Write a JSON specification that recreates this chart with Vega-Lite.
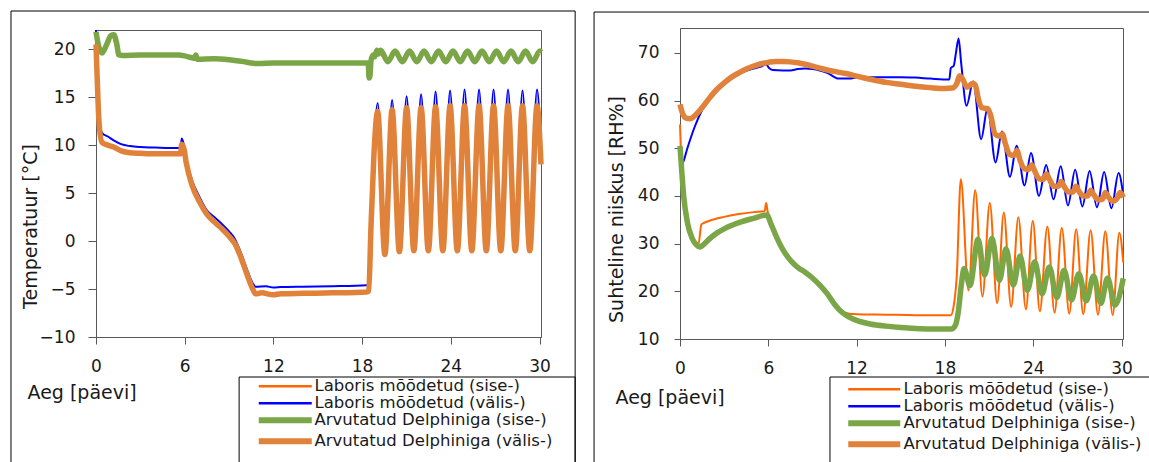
{
  "$schema": "https://vega.github.io/schema/vega-lite/v6.json",
  "padding": {"left": 9, "top": 10, "right": 0, "bottom": 0},
  "background": "white",
  "bounds": "flush",
  "center": true,
  "spacing": 139,
  "resolve": {"scale": {"color": "independent"}, "legend": {"color": "independent"}},
  "config": {
    "font": "DejaVu Sans",
    "view": {"stroke": "#595959", "strokeWidth": 1},
    "axis": {"grid": false, "domainColor": "#595959", "tickColor": "#595959", "labelColor": "#1a1a1a", "titleColor": "#1a1a1a", "labelFont": "DejaVu Sans", "titleFont": "DejaVu Sans", "labelFontSize": 17, "titleFontSize": 19, "titleFontWeight": "normal", "labelFlush": false, "labelOverlap": false},
    "line": {"interpolate": "monotone"}
  },
  "datasets": {
    "temp": [
      {"s":"Laboris mõõdetud (sise-)","d":0,"v":21.6},{"s":"Laboris mõõdetud (sise-)","d":0.4,"v":19.7},{"s":"Laboris mõõdetud (sise-)","d":1.1,"v":21.3},{"s":"Laboris mõõdetud (sise-)","d":1.55,"v":19.4},{"s":"Laboris mõõdetud (sise-)","d":3,"v":19.4},{"s":"Laboris mõõdetud (sise-)","d":5.6,"v":19.4},{"s":"Laboris mõõdetud (sise-)","d":6.5,"v":19.1},{"s":"Laboris mõõdetud (sise-)","d":8,"v":19.0},{"s":"Laboris mõõdetud (sise-)","d":10,"v":18.7},{"s":"Laboris mõõdetud (sise-)","d":10.5,"v":18.55},{"s":"Laboris mõõdetud (sise-)","d":18.4,"v":18.5},{"s":"Laboris mõõdetud (sise-)","d":18.48,"v":17.3},{"s":"Laboris mõõdetud (sise-)","d":18.6,"v":18.9},{"s":"Laboris mõõdetud (sise-)","d":19.0,"v":19.8},{"s":"Laboris mõõdetud (sise-)","d":19.74,"v":18.75},{"s":"Laboris mõõdetud (sise-)","d":20.23,"v":19.75},{"s":"Laboris mõõdetud (sise-)","d":20.72,"v":18.75},{"s":"Laboris mõõdetud (sise-)","d":21.21,"v":19.75},{"s":"Laboris mõõdetud (sise-)","d":21.7,"v":18.75},{"s":"Laboris mõõdetud (sise-)","d":22.19,"v":19.75},{"s":"Laboris mõõdetud (sise-)","d":22.68,"v":18.75},{"s":"Laboris mõõdetud (sise-)","d":23.17,"v":19.75},{"s":"Laboris mõõdetud (sise-)","d":23.66,"v":18.75},{"s":"Laboris mõõdetud (sise-)","d":24.15,"v":19.75},{"s":"Laboris mõõdetud (sise-)","d":24.64,"v":18.75},{"s":"Laboris mõõdetud (sise-)","d":25.13,"v":19.75},{"s":"Laboris mõõdetud (sise-)","d":25.62,"v":18.75},{"s":"Laboris mõõdetud (sise-)","d":26.11,"v":19.75},{"s":"Laboris mõõdetud (sise-)","d":26.6,"v":18.75},{"s":"Laboris mõõdetud (sise-)","d":27.09,"v":19.75},{"s":"Laboris mõõdetud (sise-)","d":27.58,"v":18.75},{"s":"Laboris mõõdetud (sise-)","d":28.07,"v":19.75},{"s":"Laboris mõõdetud (sise-)","d":28.56,"v":18.75},{"s":"Laboris mõõdetud (sise-)","d":29.05,"v":19.75},{"s":"Laboris mõõdetud (sise-)","d":29.54,"v":18.75},{"s":"Laboris mõõdetud (sise-)","d":30.03,"v":19.75},{"s":"Laboris mõõdetud (sise-)","d":30.1,"v":19.6},

      {"s":"Laboris mõõdetud (välis-)","d":0,"v":22},{"s":"Laboris mõõdetud (välis-)","d":0.05,"v":19},{"s":"Laboris mõõdetud (välis-)","d":0.12,"v":15},{"s":"Laboris mõõdetud (välis-)","d":0.25,"v":12},{"s":"Laboris mõõdetud (välis-)","d":0.45,"v":11.2},{"s":"Laboris mõõdetud (välis-)","d":0.8,"v":10.9},{"s":"Laboris mõõdetud (välis-)","d":1.2,"v":10.5},{"s":"Laboris mõõdetud (välis-)","d":1.7,"v":10.1},{"s":"Laboris mõõdetud (välis-)","d":2.3,"v":9.9},{"s":"Laboris mõõdetud (välis-)","d":3,"v":9.8},{"s":"Laboris mõõdetud (välis-)","d":4,"v":9.75},{"s":"Laboris mõõdetud (välis-)","d":5,"v":9.7},{"s":"Laboris mõõdetud (välis-)","d":5.72,"v":9.7},{"s":"Laboris mõõdetud (välis-)","d":5.8,"v":10.7},{"s":"Laboris mõõdetud (välis-)","d":5.9,"v":10.3},{"s":"Laboris mõõdetud (välis-)","d":6.1,"v":8.6},{"s":"Laboris mõõdetud (välis-)","d":6.5,"v":6.3},{"s":"Laboris mõõdetud (välis-)","d":7,"v":4.6},{"s":"Laboris mõõdetud (välis-)","d":7.5,"v":3.2},{"s":"Laboris mõõdetud (välis-)","d":8,"v":2.5},{"s":"Laboris mõõdetud (välis-)","d":8.5,"v":1.8},{"s":"Laboris mõõdetud (välis-)","d":9,"v":1.0},{"s":"Laboris mõõdetud (välis-)","d":9.4,"v":0.2},{"s":"Laboris mõõdetud (välis-)","d":9.8,"v":-1.2},{"s":"Laboris mõõdetud (välis-)","d":10.2,"v":-2.9},{"s":"Laboris mõõdetud (välis-)","d":10.6,"v":-4.4},{"s":"Laboris mõõdetud (välis-)","d":10.8,"v":-4.75},{"s":"Laboris mõõdetud (välis-)","d":11.5,"v":-4.7},{"s":"Laboris mõõdetud (välis-)","d":12,"v":-4.85},{"s":"Laboris mõõdetud (välis-)","d":12.5,"v":-4.8},{"s":"Laboris mõõdetud (välis-)","d":14,"v":-4.75},{"s":"Laboris mõõdetud (välis-)","d":16,"v":-4.7},{"s":"Laboris mõõdetud (välis-)","d":18.3,"v":-4.6},{"s":"Laboris mõõdetud (välis-)","d":18.45,"v":-4.5},{"s":"Laboris mõõdetud (välis-)","d":18.6,"v":2},{"s":"Laboris mõõdetud (välis-)","d":18.8,"v":10},{"s":"Laboris mõõdetud (välis-)","d":19.05,"v":14.4},{"s":"Laboris mõõdetud (välis-)","d":19.54,"v":-1.3},{"s":"Laboris mõõdetud (välis-)","d":20.03,"v":14.7},{"s":"Laboris mõõdetud (välis-)","d":20.52,"v":-1.0},{"s":"Laboris mõõdetud (välis-)","d":21.01,"v":15.1},{"s":"Laboris mõõdetud (välis-)","d":21.5,"v":-0.9},{"s":"Laboris mõõdetud (välis-)","d":21.99,"v":15.3},{"s":"Laboris mõõdetud (välis-)","d":22.48,"v":-0.9},{"s":"Laboris mõõdetud (välis-)","d":22.97,"v":15.6},{"s":"Laboris mõõdetud (välis-)","d":23.46,"v":-0.9},{"s":"Laboris mõõdetud (välis-)","d":23.95,"v":15.7},{"s":"Laboris mõõdetud (välis-)","d":24.44,"v":-0.9},{"s":"Laboris mõõdetud (välis-)","d":24.93,"v":15.8},{"s":"Laboris mõõdetud (välis-)","d":25.42,"v":-0.9},{"s":"Laboris mõõdetud (välis-)","d":25.91,"v":15.8},{"s":"Laboris mõõdetud (välis-)","d":26.4,"v":-0.9},{"s":"Laboris mõõdetud (välis-)","d":26.89,"v":15.8},{"s":"Laboris mõõdetud (välis-)","d":27.38,"v":-0.9},{"s":"Laboris mõõdetud (välis-)","d":27.87,"v":15.8},{"s":"Laboris mõõdetud (välis-)","d":28.36,"v":-0.9},{"s":"Laboris mõõdetud (välis-)","d":28.85,"v":15.7},{"s":"Laboris mõõdetud (välis-)","d":29.34,"v":-0.9},{"s":"Laboris mõõdetud (välis-)","d":29.83,"v":15.8},{"s":"Laboris mõõdetud (välis-)","d":30.1,"v":9},

      {"s":"Arvutatud Delphiniga (sise-)","d":0,"v":21.8},{"s":"Arvutatud Delphiniga (sise-)","d":0.15,"v":20.5},{"s":"Arvutatud Delphiniga (sise-)","d":0.4,"v":19.6},{"s":"Arvutatud Delphiniga (sise-)","d":0.7,"v":20.4},{"s":"Arvutatud Delphiniga (sise-)","d":1.0,"v":21.4},{"s":"Arvutatud Delphiniga (sise-)","d":1.2,"v":21.5},{"s":"Arvutatud Delphiniga (sise-)","d":1.4,"v":20.6},{"s":"Arvutatud Delphiniga (sise-)","d":1.55,"v":19.4},{"s":"Arvutatud Delphiniga (sise-)","d":1.8,"v":19.35},{"s":"Arvutatud Delphiniga (sise-)","d":3,"v":19.4},{"s":"Arvutatud Delphiniga (sise-)","d":4,"v":19.4},{"s":"Arvutatud Delphiniga (sise-)","d":5.6,"v":19.4},{"s":"Arvutatud Delphiniga (sise-)","d":6.0,"v":19.3},{"s":"Arvutatud Delphiniga (sise-)","d":6.5,"v":19.1},{"s":"Arvutatud Delphiniga (sise-)","d":6.7,"v":19.05},{"s":"Arvutatud Delphiniga (sise-)","d":6.75,"v":19.4},{"s":"Arvutatud Delphiniga (sise-)","d":6.85,"v":18.95},{"s":"Arvutatud Delphiniga (sise-)","d":8,"v":19.0},{"s":"Arvutatud Delphiniga (sise-)","d":9,"v":18.9},{"s":"Arvutatud Delphiniga (sise-)","d":10,"v":18.7},{"s":"Arvutatud Delphiniga (sise-)","d":10.5,"v":18.55},{"s":"Arvutatud Delphiniga (sise-)","d":11,"v":18.5},{"s":"Arvutatud Delphiniga (sise-)","d":12,"v":18.55},{"s":"Arvutatud Delphiniga (sise-)","d":14,"v":18.55},{"s":"Arvutatud Delphiniga (sise-)","d":16,"v":18.55},{"s":"Arvutatud Delphiniga (sise-)","d":18.35,"v":18.55},{"s":"Arvutatud Delphiniga (sise-)","d":18.42,"v":18.4},{"s":"Arvutatud Delphiniga (sise-)","d":18.47,"v":17.0},{"s":"Arvutatud Delphiniga (sise-)","d":18.53,"v":17.2},{"s":"Arvutatud Delphiniga (sise-)","d":18.6,"v":18.8},{"s":"Arvutatud Delphiniga (sise-)","d":18.75,"v":19.4},{"s":"Arvutatud Delphiniga (sise-)","d":18.85,"v":19.2},{"s":"Arvutatud Delphiniga (sise-)","d":19.0,"v":19.9},{"s":"Arvutatud Delphiniga (sise-)","d":19.1,"v":19.5},{"s":"Arvutatud Delphiniga (sise-)","d":19.25,"v":19.9},{"s":"Arvutatud Delphiniga (sise-)","d":19.74,"v":18.7},{"s":"Arvutatud Delphiniga (sise-)","d":20.23,"v":19.8},{"s":"Arvutatud Delphiniga (sise-)","d":20.72,"v":18.7},{"s":"Arvutatud Delphiniga (sise-)","d":21.21,"v":19.8},{"s":"Arvutatud Delphiniga (sise-)","d":21.7,"v":18.7},{"s":"Arvutatud Delphiniga (sise-)","d":22.19,"v":19.8},{"s":"Arvutatud Delphiniga (sise-)","d":22.68,"v":18.7},{"s":"Arvutatud Delphiniga (sise-)","d":23.17,"v":19.8},{"s":"Arvutatud Delphiniga (sise-)","d":23.66,"v":18.7},{"s":"Arvutatud Delphiniga (sise-)","d":24.15,"v":19.8},{"s":"Arvutatud Delphiniga (sise-)","d":24.64,"v":18.7},{"s":"Arvutatud Delphiniga (sise-)","d":25.13,"v":19.8},{"s":"Arvutatud Delphiniga (sise-)","d":25.62,"v":18.7},{"s":"Arvutatud Delphiniga (sise-)","d":26.11,"v":19.8},{"s":"Arvutatud Delphiniga (sise-)","d":26.6,"v":18.7},{"s":"Arvutatud Delphiniga (sise-)","d":27.09,"v":19.8},{"s":"Arvutatud Delphiniga (sise-)","d":27.58,"v":18.7},{"s":"Arvutatud Delphiniga (sise-)","d":28.07,"v":19.8},{"s":"Arvutatud Delphiniga (sise-)","d":28.56,"v":18.7},{"s":"Arvutatud Delphiniga (sise-)","d":29.05,"v":19.8},{"s":"Arvutatud Delphiniga (sise-)","d":29.54,"v":18.7},{"s":"Arvutatud Delphiniga (sise-)","d":30.03,"v":19.8},{"s":"Arvutatud Delphiniga (sise-)","d":30.1,"v":19.7},

      {"s":"Arvutatud Delphiniga (välis-)","d":0,"v":20.5},{"s":"Arvutatud Delphiniga (välis-)","d":0.08,"v":17},{"s":"Arvutatud Delphiniga (välis-)","d":0.2,"v":12.5},{"s":"Arvutatud Delphiniga (välis-)","d":0.4,"v":10.3},{"s":"Arvutatud Delphiniga (välis-)","d":0.8,"v":10.0},{"s":"Arvutatud Delphiniga (välis-)","d":1.2,"v":9.8},{"s":"Arvutatud Delphiniga (välis-)","d":1.7,"v":9.4},{"s":"Arvutatud Delphiniga (välis-)","d":2.3,"v":9.2},{"s":"Arvutatud Delphiniga (välis-)","d":3,"v":9.15},{"s":"Arvutatud Delphiniga (välis-)","d":4,"v":9.1},{"s":"Arvutatud Delphiniga (välis-)","d":5,"v":9.1},{"s":"Arvutatud Delphiniga (välis-)","d":5.72,"v":9.1},{"s":"Arvutatud Delphiniga (välis-)","d":5.8,"v":10.1},{"s":"Arvutatud Delphiniga (välis-)","d":5.95,"v":9.6},{"s":"Arvutatud Delphiniga (välis-)","d":6.1,"v":8.2},{"s":"Arvutatud Delphiniga (välis-)","d":6.5,"v":5.8},{"s":"Arvutatud Delphiniga (välis-)","d":7,"v":4.1},{"s":"Arvutatud Delphiniga (välis-)","d":7.5,"v":2.8},{"s":"Arvutatud Delphiniga (välis-)","d":8,"v":2.0},{"s":"Arvutatud Delphiniga (välis-)","d":8.5,"v":1.3},{"s":"Arvutatud Delphiniga (välis-)","d":9,"v":0.5},{"s":"Arvutatud Delphiniga (välis-)","d":9.4,"v":-0.3},{"s":"Arvutatud Delphiniga (välis-)","d":9.8,"v":-1.7},{"s":"Arvutatud Delphiniga (välis-)","d":10.2,"v":-3.4},{"s":"Arvutatud Delphiniga (välis-)","d":10.6,"v":-5.0},{"s":"Arvutatud Delphiniga (välis-)","d":10.8,"v":-5.5},{"s":"Arvutatud Delphiniga (välis-)","d":11.2,"v":-5.4},{"s":"Arvutatud Delphiniga (välis-)","d":12,"v":-5.6},{"s":"Arvutatud Delphiniga (välis-)","d":12.5,"v":-5.5},{"s":"Arvutatud Delphiniga (välis-)","d":14,"v":-5.45},{"s":"Arvutatud Delphiniga (välis-)","d":16,"v":-5.4},{"s":"Arvutatud Delphiniga (välis-)","d":18.3,"v":-5.3},{"s":"Arvutatud Delphiniga (välis-)","d":18.45,"v":-5.2},{"s":"Arvutatud Delphiniga (välis-)","d":18.6,"v":1.5},{"s":"Arvutatud Delphiniga (välis-)","d":18.8,"v":9},{"s":"Arvutatud Delphiniga (välis-)","d":19.05,"v":13.5},{"s":"Arvutatud Delphiniga (välis-)","d":19.54,"v":-1.4},{"s":"Arvutatud Delphiniga (välis-)","d":20.03,"v":13.7},{"s":"Arvutatud Delphiniga (välis-)","d":20.52,"v":-1.1},{"s":"Arvutatud Delphiniga (välis-)","d":21.01,"v":13.9},{"s":"Arvutatud Delphiniga (välis-)","d":21.5,"v":-1.0},{"s":"Arvutatud Delphiniga (välis-)","d":21.99,"v":13.9},{"s":"Arvutatud Delphiniga (välis-)","d":22.48,"v":-1.0},{"s":"Arvutatud Delphiniga (välis-)","d":22.97,"v":14.0},{"s":"Arvutatud Delphiniga (välis-)","d":23.46,"v":-1.0},{"s":"Arvutatud Delphiniga (välis-)","d":23.95,"v":14.1},{"s":"Arvutatud Delphiniga (välis-)","d":24.44,"v":-1.0},{"s":"Arvutatud Delphiniga (välis-)","d":24.93,"v":14.1},{"s":"Arvutatud Delphiniga (välis-)","d":25.42,"v":-1.0},{"s":"Arvutatud Delphiniga (välis-)","d":25.91,"v":14.1},{"s":"Arvutatud Delphiniga (välis-)","d":26.4,"v":-1.0},{"s":"Arvutatud Delphiniga (välis-)","d":26.89,"v":14.1},{"s":"Arvutatud Delphiniga (välis-)","d":27.38,"v":-1.0},{"s":"Arvutatud Delphiniga (välis-)","d":27.87,"v":14.1},{"s":"Arvutatud Delphiniga (välis-)","d":28.36,"v":-1.0},{"s":"Arvutatud Delphiniga (välis-)","d":28.85,"v":14.1},{"s":"Arvutatud Delphiniga (välis-)","d":29.34,"v":-1.0},{"s":"Arvutatud Delphiniga (välis-)","d":29.83,"v":14.1},{"s":"Arvutatud Delphiniga (välis-)","d":30.1,"v":8.0}
    ],
    "rh": [
      {"s":"Laboris mõõdetud (sise-)","d":0,"v":55},{"s":"Laboris mõõdetud (sise-)","d":0.1,"v":46},{"s":"Laboris mõõdetud (sise-)","d":0.2,"v":40},{"s":"Laboris mõõdetud (sise-)","d":0.35,"v":35.5},{"s":"Laboris mõõdetud (sise-)","d":0.5,"v":33.2},{"s":"Laboris mõõdetud (sise-)","d":0.8,"v":31.5},{"s":"Laboris mõõdetud (sise-)","d":1.05,"v":30.3},{"s":"Laboris mõõdetud (sise-)","d":1.25,"v":29.8},{"s":"Laboris mõõdetud (sise-)","d":1.45,"v":34.0},{"s":"Laboris mõõdetud (sise-)","d":1.6,"v":34.3},{"s":"Laboris mõõdetud (sise-)","d":2,"v":34.8},{"s":"Laboris mõõdetud (sise-)","d":3,"v":35.6},{"s":"Laboris mõõdetud (sise-)","d":4,"v":36.2},{"s":"Laboris mõõdetud (sise-)","d":5,"v":36.6},{"s":"Laboris mõõdetud (sise-)","d":5.75,"v":36.8},{"s":"Laboris mõõdetud (sise-)","d":5.85,"v":38.5},{"s":"Laboris mõõdetud (sise-)","d":5.95,"v":36.8},{"s":"Laboris mõõdetud (sise-)","d":6.2,"v":34.5},{"s":"Laboris mõõdetud (sise-)","d":6.5,"v":32},{"s":"Laboris mõõdetud (sise-)","d":7,"v":28.5},{"s":"Laboris mõõdetud (sise-)","d":7.5,"v":26.5},{"s":"Laboris mõõdetud (sise-)","d":8,"v":25},{"s":"Laboris mõõdetud (sise-)","d":8.5,"v":24},{"s":"Laboris mõõdetud (sise-)","d":9,"v":22.8},{"s":"Laboris mõõdetud (sise-)","d":9.5,"v":21.5},{"s":"Laboris mõõdetud (sise-)","d":10,"v":19.8},{"s":"Laboris mõõdetud (sise-)","d":10.5,"v":17.5},{"s":"Laboris mõõdetud (sise-)","d":11,"v":15.9},{"s":"Laboris mõõdetud (sise-)","d":11.5,"v":15.3},{"s":"Laboris mõõdetud (sise-)","d":12,"v":15.2},{"s":"Laboris mõõdetud (sise-)","d":14,"v":15.1},{"s":"Laboris mõõdetud (sise-)","d":16,"v":15.0},{"s":"Laboris mõõdetud (sise-)","d":18.4,"v":15.0},{"s":"Laboris mõõdetud (sise-)","d":18.6,"v":17},{"s":"Laboris mõõdetud (sise-)","d":18.8,"v":23},{"s":"Laboris mõõdetud (sise-)","d":19.08,"v":43.5},{"s":"Laboris mõõdetud (sise-)","d":19.6,"v":20.2},{"s":"Laboris mõõdetud (sise-)","d":20.06,"v":41.2},{"s":"Laboris mõõdetud (sise-)","d":20.55,"v":18.9},{"s":"Laboris mõõdetud (sise-)","d":21.05,"v":38.5},{"s":"Laboris mõõdetud (sise-)","d":21.55,"v":17.5},{"s":"Laboris mõõdetud (sise-)","d":22.0,"v":36.5},{"s":"Laboris mõõdetud (sise-)","d":22.5,"v":16.7},{"s":"Laboris mõõdetud (sise-)","d":22.99,"v":35.5},{"s":"Laboris mõõdetud (sise-)","d":23.5,"v":16.2},{"s":"Laboris mõõdetud (sise-)","d":23.97,"v":34.8},{"s":"Laboris mõõdetud (sise-)","d":24.45,"v":15.8},{"s":"Laboris mõõdetud (sise-)","d":24.96,"v":33.6},{"s":"Laboris mõõdetud (sise-)","d":25.45,"v":15.5},{"s":"Laboris mõõdetud (sise-)","d":25.94,"v":33.3},{"s":"Laboris mõõdetud (sise-)","d":26.45,"v":15.3},{"s":"Laboris mõõdetud (sise-)","d":26.92,"v":33.0},{"s":"Laboris mõõdetud (sise-)","d":27.4,"v":15.2},{"s":"Laboris mõõdetud (sise-)","d":27.9,"v":32.8},{"s":"Laboris mõõdetud (sise-)","d":28.4,"v":15.1},{"s":"Laboris mõõdetud (sise-)","d":28.9,"v":32.6},{"s":"Laboris mõõdetud (sise-)","d":29.4,"v":15.0},{"s":"Laboris mõõdetud (sise-)","d":29.85,"v":32.3},{"s":"Laboris mõõdetud (sise-)","d":30.12,"v":26},

      {"s":"Laboris mõõdetud (välis-)","d":0,"v":46.5},{"s":"Laboris mõõdetud (välis-)","d":0.2,"v":47},{"s":"Laboris mõõdetud (välis-)","d":0.5,"v":50},{"s":"Laboris mõõdetud (välis-)","d":1,"v":54.5},{"s":"Laboris mõõdetud (välis-)","d":1.5,"v":58},{"s":"Laboris mõõdetud (välis-)","d":2,"v":60.5},{"s":"Laboris mõõdetud (välis-)","d":2.5,"v":62.2},{"s":"Laboris mõõdetud (välis-)","d":3,"v":63.5},{"s":"Laboris mõõdetud (välis-)","d":3.5,"v":64.6},{"s":"Laboris mõõdetud (välis-)","d":4,"v":65.5},{"s":"Laboris mõõdetud (välis-)","d":4.5,"v":66.2},{"s":"Laboris mõõdetud (välis-)","d":5,"v":66.7},{"s":"Laboris mõõdetud (välis-)","d":5.5,"v":67.1},{"s":"Laboris mõõdetud (välis-)","d":5.85,"v":67.6},{"s":"Laboris mõõdetud (välis-)","d":6.05,"v":66.8},{"s":"Laboris mõõdetud (välis-)","d":6.3,"v":66.4},{"s":"Laboris mõõdetud (välis-)","d":7,"v":66.3},{"s":"Laboris mõõdetud (välis-)","d":7.5,"v":66.3},{"s":"Laboris mõõdetud (välis-)","d":8,"v":66.6},{"s":"Laboris mõõdetud (välis-)","d":8.5,"v":66.7},{"s":"Laboris mõõdetud (välis-)","d":9,"v":66.6},{"s":"Laboris mõõdetud (välis-)","d":9.5,"v":66.3},{"s":"Laboris mõõdetud (välis-)","d":10,"v":65.8},{"s":"Laboris mõõdetud (välis-)","d":10.5,"v":64.9},{"s":"Laboris mõõdetud (välis-)","d":10.7,"v":64.6},{"s":"Laboris mõõdetud (välis-)","d":11.5,"v":64.6},{"s":"Laboris mõõdetud (välis-)","d":12,"v":64.8},{"s":"Laboris mõõdetud (välis-)","d":13,"v":64.9},{"s":"Laboris mõõdetud (välis-)","d":15,"v":64.9},{"s":"Laboris mõõdetud (välis-)","d":16,"v":64.8},{"s":"Laboris mõõdetud (välis-)","d":17,"v":64.6},{"s":"Laboris mõõdetud (välis-)","d":18.3,"v":64.4},{"s":"Laboris mõõdetud (välis-)","d":18.4,"v":66.8},{"s":"Laboris mõõdetud (välis-)","d":18.6,"v":67.3},{"s":"Laboris mõõdetud (välis-)","d":18.75,"v":70},{"s":"Laboris mõõdetud (välis-)","d":18.93,"v":73},{"s":"Laboris mõõdetud (välis-)","d":19.1,"v":68},{"s":"Laboris mõõdetud (välis-)","d":19.47,"v":58.9},{"s":"Laboris mõõdetud (välis-)","d":19.92,"v":64.0},{"s":"Laboris mõõdetud (välis-)","d":20.46,"v":51.9},{"s":"Laboris mõõdetud (välis-)","d":20.9,"v":58.5},{"s":"Laboris mõõdetud (välis-)","d":21.44,"v":47.0},{"s":"Laboris mõõdetud (välis-)","d":21.88,"v":53.5},{"s":"Laboris mõõdetud (välis-)","d":22.42,"v":44.0},{"s":"Laboris mõõdetud (välis-)","d":22.87,"v":50.5},{"s":"Laboris mõõdetud (välis-)","d":23.41,"v":42.2},{"s":"Laboris mõõdetud (välis-)","d":23.85,"v":49.0},{"s":"Laboris mõõdetud (välis-)","d":24.39,"v":40.0},{"s":"Laboris mõõdetud (välis-)","d":24.88,"v":46.5},{"s":"Laboris mõõdetud (välis-)","d":25.38,"v":39.3},{"s":"Laboris mõõdetud (välis-)","d":25.87,"v":46.2},{"s":"Laboris mõõdetud (välis-)","d":26.36,"v":38.0},{"s":"Laboris mõõdetud (välis-)","d":26.85,"v":45.5},{"s":"Laboris mõõdetud (välis-)","d":27.34,"v":37.8},{"s":"Laboris mõõdetud (välis-)","d":27.83,"v":45.2},{"s":"Laboris mõõdetud (välis-)","d":28.33,"v":37.6},{"s":"Laboris mõõdetud (välis-)","d":28.82,"v":45.0},{"s":"Laboris mõõdetud (välis-)","d":29.31,"v":37.4},{"s":"Laboris mõõdetud (välis-)","d":29.8,"v":44.8},{"s":"Laboris mõõdetud (välis-)","d":30.12,"v":40},

      {"s":"Arvutatud Delphiniga (sise-)","d":0,"v":50.5},{"s":"Arvutatud Delphiniga (sise-)","d":0.1,"v":46},{"s":"Arvutatud Delphiniga (sise-)","d":0.25,"v":40},{"s":"Arvutatud Delphiniga (sise-)","d":0.5,"v":34.5},{"s":"Arvutatud Delphiniga (sise-)","d":0.8,"v":31.3},{"s":"Arvutatud Delphiniga (sise-)","d":1.1,"v":29.8},{"s":"Arvutatud Delphiniga (sise-)","d":1.35,"v":29.3},{"s":"Arvutatud Delphiniga (sise-)","d":1.6,"v":29.8},{"s":"Arvutatud Delphiniga (sise-)","d":2,"v":31.0},{"s":"Arvutatud Delphiniga (sise-)","d":2.5,"v":32.2},{"s":"Arvutatud Delphiniga (sise-)","d":3,"v":33.1},{"s":"Arvutatud Delphiniga (sise-)","d":4,"v":34.4},{"s":"Arvutatud Delphiniga (sise-)","d":5,"v":35.3},{"s":"Arvutatud Delphiniga (sise-)","d":5.9,"v":36.0},{"s":"Arvutatud Delphiniga (sise-)","d":6.2,"v":34},{"s":"Arvutatud Delphiniga (sise-)","d":6.5,"v":31.8},{"s":"Arvutatud Delphiniga (sise-)","d":7,"v":28.7},{"s":"Arvutatud Delphiniga (sise-)","d":7.5,"v":26.5},{"s":"Arvutatud Delphiniga (sise-)","d":8,"v":25.0},{"s":"Arvutatud Delphiniga (sise-)","d":8.5,"v":24.0},{"s":"Arvutatud Delphiniga (sise-)","d":9,"v":22.8},{"s":"Arvutatud Delphiniga (sise-)","d":9.5,"v":21.3},{"s":"Arvutatud Delphiniga (sise-)","d":10,"v":19.5},{"s":"Arvutatud Delphiniga (sise-)","d":10.5,"v":17.3},{"s":"Arvutatud Delphiniga (sise-)","d":11,"v":15.6},{"s":"Arvutatud Delphiniga (sise-)","d":11.5,"v":14.6},{"s":"Arvutatud Delphiniga (sise-)","d":12,"v":13.9},{"s":"Arvutatud Delphiniga (sise-)","d":13,"v":13.1},{"s":"Arvutatud Delphiniga (sise-)","d":14,"v":12.7},{"s":"Arvutatud Delphiniga (sise-)","d":15,"v":12.4},{"s":"Arvutatud Delphiniga (sise-)","d":16,"v":12.2},{"s":"Arvutatud Delphiniga (sise-)","d":17,"v":12.1},{"s":"Arvutatud Delphiniga (sise-)","d":18.45,"v":12.1},{"s":"Arvutatud Delphiniga (sise-)","d":18.7,"v":12.8},{"s":"Arvutatud Delphiniga (sise-)","d":18.9,"v":15.5},{"s":"Arvutatud Delphiniga (sise-)","d":19.1,"v":21},{"s":"Arvutatud Delphiniga (sise-)","d":19.3,"v":24.8},{"s":"Arvutatud Delphiniga (sise-)","d":19.7,"v":21.2},{"s":"Arvutatud Delphiniga (sise-)","d":20.25,"v":30.9},{"s":"Arvutatud Delphiniga (sise-)","d":20.7,"v":23.4},{"s":"Arvutatud Delphiniga (sise-)","d":21.2,"v":31.1},{"s":"Arvutatud Delphiniga (sise-)","d":21.7,"v":22.3},{"s":"Arvutatud Delphiniga (sise-)","d":22.15,"v":28.9},{"s":"Arvutatud Delphiniga (sise-)","d":22.65,"v":21.3},{"s":"Arvutatud Delphiniga (sise-)","d":23.1,"v":27.4},{"s":"Arvutatud Delphiniga (sise-)","d":23.6,"v":20.2},{"s":"Arvutatud Delphiniga (sise-)","d":24.1,"v":26.2},{"s":"Arvutatud Delphiniga (sise-)","d":24.6,"v":19.5},{"s":"Arvutatud Delphiniga (sise-)","d":25.1,"v":25.1},{"s":"Arvutatud Delphiniga (sise-)","d":25.6,"v":18.7},{"s":"Arvutatud Delphiniga (sise-)","d":26.1,"v":24.4},{"s":"Arvutatud Delphiniga (sise-)","d":26.6,"v":18.2},{"s":"Arvutatud Delphiniga (sise-)","d":27.1,"v":23.7},{"s":"Arvutatud Delphiniga (sise-)","d":27.6,"v":18.0},{"s":"Arvutatud Delphiniga (sise-)","d":28.1,"v":23.2},{"s":"Arvutatud Delphiniga (sise-)","d":28.6,"v":17.5},{"s":"Arvutatud Delphiniga (sise-)","d":29.05,"v":22.8},{"s":"Arvutatud Delphiniga (sise-)","d":29.55,"v":17.1},{"s":"Arvutatud Delphiniga (sise-)","d":30.12,"v":22.7},

      {"s":"Arvutatud Delphiniga (välis-)","d":0,"v":59.2},{"s":"Arvutatud Delphiniga (välis-)","d":0.15,"v":57.5},{"s":"Arvutatud Delphiniga (välis-)","d":0.4,"v":56.3},{"s":"Arvutatud Delphiniga (välis-)","d":0.7,"v":56.2},{"s":"Arvutatud Delphiniga (välis-)","d":1,"v":56.8},{"s":"Arvutatud Delphiniga (välis-)","d":1.5,"v":58.5},{"s":"Arvutatud Delphiniga (välis-)","d":2,"v":60.5},{"s":"Arvutatud Delphiniga (välis-)","d":2.5,"v":62.3},{"s":"Arvutatud Delphiniga (välis-)","d":3,"v":63.7},{"s":"Arvutatud Delphiniga (välis-)","d":3.5,"v":64.9},{"s":"Arvutatud Delphiniga (välis-)","d":4,"v":65.8},{"s":"Arvutatud Delphiniga (välis-)","d":4.5,"v":66.6},{"s":"Arvutatud Delphiniga (välis-)","d":5,"v":67.2},{"s":"Arvutatud Delphiniga (välis-)","d":5.5,"v":67.7},{"s":"Arvutatud Delphiniga (välis-)","d":6,"v":68.0},{"s":"Arvutatud Delphiniga (välis-)","d":6.5,"v":68.2},{"s":"Arvutatud Delphiniga (välis-)","d":7,"v":68.2},{"s":"Arvutatud Delphiniga (välis-)","d":7.5,"v":68.1},{"s":"Arvutatud Delphiniga (välis-)","d":8,"v":67.9},{"s":"Arvutatud Delphiniga (välis-)","d":8.5,"v":67.6},{"s":"Arvutatud Delphiniga (välis-)","d":9,"v":67.2},{"s":"Arvutatud Delphiniga (välis-)","d":9.5,"v":66.8},{"s":"Arvutatud Delphiniga (välis-)","d":10,"v":66.4},{"s":"Arvutatud Delphiniga (välis-)","d":10.5,"v":66.1},{"s":"Arvutatud Delphiniga (välis-)","d":11,"v":65.8},{"s":"Arvutatud Delphiniga (välis-)","d":11.5,"v":65.5},{"s":"Arvutatud Delphiniga (välis-)","d":12,"v":65.1},{"s":"Arvutatud Delphiniga (välis-)","d":13,"v":64.4},{"s":"Arvutatud Delphiniga (välis-)","d":14,"v":63.8},{"s":"Arvutatud Delphiniga (välis-)","d":15,"v":63.4},{"s":"Arvutatud Delphiniga (välis-)","d":16,"v":63.0},{"s":"Arvutatud Delphiniga (välis-)","d":17,"v":62.7},{"s":"Arvutatud Delphiniga (välis-)","d":18,"v":62.5},{"s":"Arvutatud Delphiniga (välis-)","d":18.5,"v":62.6},{"s":"Arvutatud Delphiniga (välis-)","d":18.8,"v":63.5},{"s":"Arvutatud Delphiniga (välis-)","d":19.0,"v":65.2},{"s":"Arvutatud Delphiniga (välis-)","d":19.2,"v":64.5},{"s":"Arvutatud Delphiniga (välis-)","d":19.5,"v":62.8},{"s":"Arvutatud Delphiniga (välis-)","d":19.9,"v":63.6},{"s":"Arvutatud Delphiniga (välis-)","d":20.05,"v":63.3},{"s":"Arvutatud Delphiniga (välis-)","d":20.3,"v":60},{"s":"Arvutatud Delphiniga (välis-)","d":20.5,"v":58.5},{"s":"Arvutatud Delphiniga (välis-)","d":20.9,"v":58.3},{"s":"Arvutatud Delphiniga (välis-)","d":21.1,"v":57},{"s":"Arvutatud Delphiniga (välis-)","d":21.4,"v":53},{"s":"Arvutatud Delphiniga (välis-)","d":21.7,"v":52.5},{"s":"Arvutatud Delphiniga (välis-)","d":21.9,"v":53.0},{"s":"Arvutatud Delphiniga (välis-)","d":22.1,"v":51},{"s":"Arvutatud Delphiniga (välis-)","d":22.4,"v":48.7},{"s":"Arvutatud Delphiniga (välis-)","d":22.7,"v":48.5},{"s":"Arvutatud Delphiniga (välis-)","d":22.9,"v":49.5},{"s":"Arvutatud Delphiniga (välis-)","d":23.1,"v":47.5},{"s":"Arvutatud Delphiniga (välis-)","d":23.4,"v":45.7},{"s":"Arvutatud Delphiniga (välis-)","d":23.7,"v":45.6},{"s":"Arvutatud Delphiniga (välis-)","d":23.9,"v":46.5},{"s":"Arvutatud Delphiniga (välis-)","d":24.1,"v":45.2},{"s":"Arvutatud Delphiniga (välis-)","d":24.4,"v":43.6},{"s":"Arvutatud Delphiniga (välis-)","d":24.7,"v":43.5},{"s":"Arvutatud Delphiniga (välis-)","d":24.9,"v":44.6},{"s":"Arvutatud Delphiniga (välis-)","d":25.1,"v":43.5},{"s":"Arvutatud Delphiniga (välis-)","d":25.4,"v":42},{"s":"Arvutatud Delphiniga (välis-)","d":25.7,"v":42},{"s":"Arvutatud Delphiniga (välis-)","d":25.9,"v":43},{"s":"Arvutatud Delphiniga (välis-)","d":26.1,"v":42},{"s":"Arvutatud Delphiniga (välis-)","d":26.4,"v":40.8},{"s":"Arvutatud Delphiniga (välis-)","d":26.7,"v":40.8},{"s":"Arvutatud Delphiniga (välis-)","d":26.9,"v":42},{"s":"Arvutatud Delphiniga (välis-)","d":27.1,"v":41},{"s":"Arvutatud Delphiniga (välis-)","d":27.4,"v":40},{"s":"Arvutatud Delphiniga (välis-)","d":27.7,"v":40},{"s":"Arvutatud Delphiniga (välis-)","d":27.9,"v":41.2},{"s":"Arvutatud Delphiniga (välis-)","d":28.1,"v":40.3},{"s":"Arvutatud Delphiniga (välis-)","d":28.4,"v":39.2},{"s":"Arvutatud Delphiniga (välis-)","d":28.7,"v":39.3},{"s":"Arvutatud Delphiniga (välis-)","d":28.9,"v":40.7},{"s":"Arvutatud Delphiniga (välis-)","d":29.1,"v":39.8},{"s":"Arvutatud Delphiniga (välis-)","d":29.4,"v":38.9},{"s":"Arvutatud Delphiniga (välis-)","d":29.7,"v":39.5},{"s":"Arvutatud Delphiniga (välis-)","d":29.9,"v":40.7},{"s":"Arvutatud Delphiniga (välis-)","d":30.12,"v":39.7}
    ]
  },
  "hconcat": [
    {
      "width": 445,
      "height": 307,
      "layer": [
        {
          "data": {"values": [{}]},
          "mark": {"type": "rect", "filled": false, "stroke": "#000000", "strokeWidth": 1, "clip": false},
          "encoding": {"x": {"datum": -5.75}, "x2": {"datum": 32.41}, "y": {"datum": 23.98}, "y2": {"datum": -25}}
        },
        {
          "data": {"values": [{}]},
          "mark": {"type": "rect", "filled": false, "stroke": "#000000", "strokeWidth": 1, "clip": false},
          "encoding": {"x": {"datum": 9.68}, "x2": {"datum": 32.41}, "y": {"datum": -14.17}, "y2": {"datum": -25}}
        },
        {
          "data": {"name": "temp"},
          "transform": [{"filter": {"field": "s", "oneOf": ["Laboris mõõdetud (sise-)", "Laboris mõõdetud (välis-)"]}}],
          "mark": {"type": "line", "interpolate": "monotone", "strokeWidth": 2},
          "encoding": {
            "x": {"field": "d", "type": "quantitative", "scale": {"domain": [0, 30.1], "nice": false, "zero": false},
              "axis": {"values": [0, 6, 12, 18, 24, 30], "title": "Aeg [päevi]", "titleX": -69, "titleY": 61, "titleAlign": "left", "titleBaseline": "alphabetic", "tickSize": 7, "labelPadding": 14}},
            "y": {"field": "v", "type": "quantitative", "scale": {"domain": [-10, 22], "nice": false, "zero": false},
              "axis": {"values": [-10, -5, 0, 5, 10, 15, 20], "title": "Temperatuur [°C]", "titleX": -66, "titleY": 196, "titleAlign": "center", "titleBaseline": "middle", "titleAngle": -90, "tickSize": 8, "labelPadding": 13}},
            "color": {"field": "s", "type": "nominal",
              "scale": {"domain": ["Laboris mõõdetud (sise-)", "Laboris mõõdetud (välis-)", "Arvutatud Delphiniga (sise-)", "Arvutatud Delphiniga (välis-)"], "range": ["#FF6600", "#0000FF", "#7BA648", "#E0823A"]},
              "legend": {"title": null, "orient": "none", "legendX": 160, "legendY": 348, "symbolType": "stroke", "symbolSize": 2809, "symbolOffset": 21, "labelFont": "DejaVu Sans", "labelFontSize": 16.5, "labelColor": "#1a1a1a", "rowPadding": -10.1, "labelOffset": 21, "padding": 0, "labelLimit": 400,
                "encode": {"symbols": {"update": {"strokeWidth": {"signal": "datum.index >= 2 ? 6 : 2.5"}}}}}}
          }
        },
        {
          "data": {"name": "temp"},
          "transform": [{"filter": {"field": "s", "oneOf": ["Arvutatud Delphiniga (sise-)", "Arvutatud Delphiniga (välis-)"]}}],
          "mark": {"type": "line", "interpolate": "monotone", "strokeWidth": 5.5},
          "encoding": {
            "x": {"field": "d", "type": "quantitative"},
            "y": {"field": "v", "type": "quantitative"},
            "color": {"field": "s", "type": "nominal"}
          }
        }
      ]
    },
    {
      "width": 443,
      "height": 311,
      "layer": [
        {
          "data": {"values": [{}]},
          "mark": {"type": "rect", "filled": false, "stroke": "#000000", "strokeWidth": 1, "clip": false},
          "encoding": {"x": {"datum": -5.84}, "x2": {"datum": 32.7}, "y": {"datum": 78.55}, "y2": {"datum": -20}}
        },
        {
          "data": {"values": [{}]},
          "mark": {"type": "rect", "filled": false, "stroke": "#000000", "strokeWidth": 1, "clip": false},
          "encoding": {"x": {"datum": 10.19}, "x2": {"datum": 32.7}, "y": {"datum": 2.03}, "y2": {"datum": -20}}
        },
        {
          "data": {"name": "rh"},
          "transform": [{"filter": {"field": "s", "oneOf": ["Laboris mõõdetud (sise-)", "Laboris mõõdetud (välis-)"]}}],
          "mark": {"type": "line", "interpolate": "monotone", "strokeWidth": 2},
          "encoding": {
            "x": {"field": "d", "type": "quantitative", "scale": {"domain": [0, 30.1], "nice": false, "zero": false},
              "axis": {"values": [0, 6, 12, 18, 24, 30], "title": "Aeg [päevi]", "titleX": -65, "titleY": 64, "titleAlign": "left", "titleBaseline": "alphabetic", "tickSize": 7, "labelPadding": 14}},
            "y": {"field": "v", "type": "quantitative", "scale": {"domain": [10, 75.2], "nice": false, "zero": false},
              "axis": {"values": [10, 20, 30, 40, 50, 60, 70], "title": "Suhteline niiskus [RH%]", "titleX": -64, "titleY": 181, "titleAlign": "center", "titleBaseline": "middle", "titleAngle": -90, "tickSize": 6, "labelPadding": 15}},
            "color": {"field": "s", "type": "nominal",
              "scale": {"domain": ["Laboris mõõdetud (sise-)", "Laboris mõõdetud (välis-)", "Arvutatud Delphiniga (sise-)", "Arvutatud Delphiniga (välis-)"], "range": ["#FF6600", "#0000FF", "#7BA648", "#E0823A"]},
              "legend": {"title": null, "orient": "none", "legendX": 165, "legendY": 353, "symbolType": "stroke", "symbolSize": 2704, "symbolOffset": 21, "labelFont": "DejaVu Sans", "labelFontSize": 16.5, "labelColor": "#1a1a1a", "rowPadding": -10.1, "labelOffset": 21, "padding": 0, "labelLimit": 400,
                "encode": {"symbols": {"update": {"strokeWidth": {"signal": "datum.index >= 2 ? 6 : 2.5"}}}}}}
          }
        },
        {
          "data": {"name": "rh"},
          "transform": [{"filter": {"field": "s", "oneOf": ["Arvutatud Delphiniga (sise-)", "Arvutatud Delphiniga (välis-)"]}}],
          "mark": {"type": "line", "interpolate": "monotone", "strokeWidth": 5.5},
          "encoding": {
            "x": {"field": "d", "type": "quantitative"},
            "y": {"field": "v", "type": "quantitative"},
            "color": {"field": "s", "type": "nominal"}
          }
        }
      ]
    }
  ]
}
